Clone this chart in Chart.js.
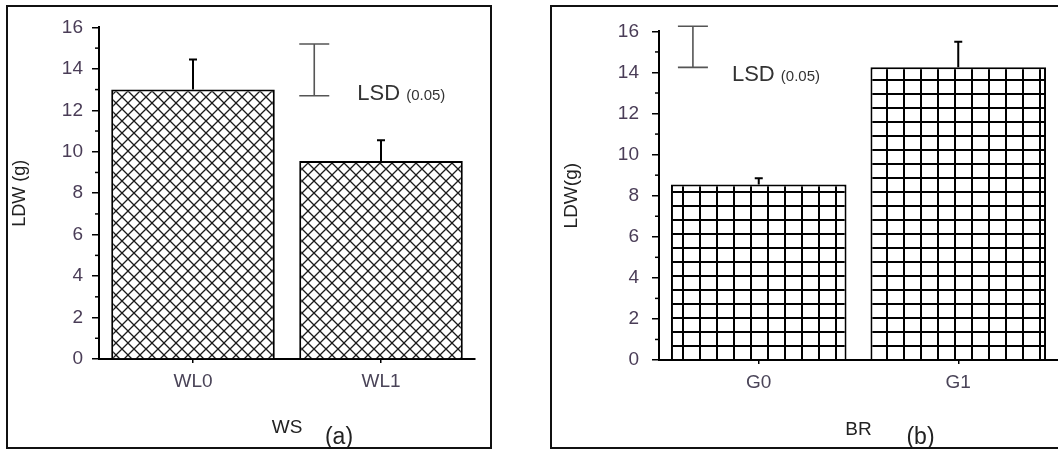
<!DOCTYPE html>
<html>
<head>
<meta charset="utf-8">
<script src="https://cdn.jsdelivr.net/npm/chart.js@4.4.1/dist/chart.umd.min.js"></script>
<style>
  body { margin:0; background:#fff; width:1058px; height:449px; overflow:hidden; position:relative; }
  .panel { position:absolute; border:2px solid #111; background:#fff; }
  #box-a { left:6px; top:5px; width:482px; height:440px; }
  #box-b { left:550px; top:5px; width:506px; height:440px; border-right:none; }
  canvas { display:block; }
</style>
</head>
<body>
<div class="panel" id="box-a"><canvas id="chart-a" width="482" height="440"></canvas></div>
<div class="panel" id="box-b"><canvas id="chart-b" width="506" height="440"></canvas></div>
<script>
// Values
const ticksY = [0, 2, 4, 6, 8, 10, 12, 14, 16];

const wsLabels = ['WL0', 'WL1'];
const wsMeans = [13.0, 9.55];
const wsErrTop = [14.45, 10.55];
const wsLsd = [12.7, 15.2];
const wsLsdAt = 0.645;   // place on the category axis

const brLabels = ['G0', 'G1'];
const brMeans = [8.55, 14.25];
const brErrTop = [8.85, 15.5];
const brLsd = [14.25, 16.25];
const brLsdAt = -0.33;

Chart.defaults.font.family = '"Liberation Sans", Arial, sans-serif';

// Patterns
function crossHatch(ctx) {
  const s = 12;
  const c = document.createElement('canvas');
  c.width = s; c.height = s;
  const g = c.getContext('2d');
  g.fillStyle = '#fff'; g.fillRect(0, 0, s, s);
  g.strokeStyle = '#1a1a1a'; g.lineWidth = 1.3;
  [-s, 0, s].forEach(d => {
    g.beginPath();
    g.moveTo(d, 0); g.lineTo(d + s, s);
    g.moveTo(d, s); g.lineTo(d + s, 0);
    g.stroke();
  });
  return ctx.createPattern(c, 'repeat');
}

function squareGrid(ctx, ox, oy) {
  const w = 17, h = 14;
  const c = document.createElement('canvas');
  c.width = w; c.height = h;
  const g = c.getContext('2d');
  g.fillStyle = '#fff'; g.fillRect(0, 0, w, h);
  g.fillStyle = '#000';
  g.fillRect(0, 0, w, 2);
  g.fillRect(0, 0, 2, h);
  const p = ctx.createPattern(c, 'repeat');
  p.setTransform(new DOMMatrix([1, 0, 0, 1, ox, oy]));
  return p;
}

// Error bars, minor ticks, LSD bar and panel letter
const extras = {
  id: 'extras',
  afterDatasetsDraw(chart, args, o) {
    const { ctx, chartArea: ca, scales: { x, y } } = chart;
    ctx.save();
    ctx.strokeStyle = '#000';
    ctx.lineWidth = 1.5;
    for (let i = 0; i < ticksY.length - 1; i++) {
      const py = y.getPixelForValue((ticksY[i] + ticksY[i + 1]) / 2);
      ctx.beginPath(); ctx.moveTo(ca.left - 4, py); ctx.lineTo(ca.left, py); ctx.stroke();
    }

    ctx.lineWidth = 2;
    chart.getDatasetMeta(0).data.forEach((bar, i) => {
      const top = y.getPixelForValue(o.err[i]);
      ctx.beginPath();
      ctx.moveTo(bar.x, bar.y); ctx.lineTo(bar.x, top);
      ctx.moveTo(bar.x - 4, top); ctx.lineTo(bar.x + 4, top);
      ctx.stroke();
    });

    const lx = x.getPixelForValue(o.lsdAt);
    const lo = y.getPixelForValue(o.lsd[0]);
    const hi = y.getPixelForValue(o.lsd[1]);
    ctx.strokeStyle = '#555';
    ctx.lineWidth = 1.6;
    ctx.beginPath();
    ctx.moveTo(lx, lo); ctx.lineTo(lx, hi);
    ctx.moveTo(lx - 15, lo); ctx.lineTo(lx + 15, lo);
    ctx.moveTo(lx - 15, hi); ctx.lineTo(lx + 15, hi);
    ctx.stroke();

    ctx.fillStyle = '#333';
    ctx.textBaseline = 'alphabetic';
    ctx.font = '22px "Liberation Sans", Arial, sans-serif';
    ctx.fillText('LSD', lx + o.dx, lo + o.dy);
    const w = ctx.measureText('LSD ').width;
    ctx.font = '15px "Liberation Sans", Arial, sans-serif';
    ctx.fillText('(0.05)', lx + o.dx + w, lo + o.dy);

    ctx.fillStyle = '#222';
    ctx.font = '23px "Liberation Sans", Arial, sans-serif';
    ctx.textAlign = 'center';
    ctx.textBaseline = 'middle';
    ctx.fillText(o.panel, (ca.left + ca.right) / 2 + o.panelDx, o.panelY);
    ctx.restore();
  }
};

function makeChart(id, labels, means, fill, o) {
  return new Chart(document.getElementById(id), {
    type: 'bar',
    data: {
      labels: labels,
      datasets: [{
        data: means,
        backgroundColor: fill,
        borderColor: '#000',
        borderWidth: 2,
        barPercentage: o.barPct,
        categoryPercentage: 1
      }]
    },
    options: {
      responsive: false,
      animation: false,
      layout: { padding: { top: o.top, right: o.right, left: 0, bottom: 0 } },
      plugins: {
        legend: { display: false },
        tooltip: { enabled: false },
        extras: o.extras
      },
      scales: {
        x: {
          afterFit: s => { s.height = o.axisBottom; },
          border: { color: '#000', width: 2 },
          grid: { drawOnChartArea: false, offset: false, color: '#000', lineWidth: 1.5, tickLength: 4 },
          ticks: { color: '#4a4458', font: { size: 19 }, padding: 7 },
          title: { display: true, text: o.xTitle, color: '#222', font: { size: o.xTitleSize }, padding: { top: 0, bottom: o.xTitlePad } }
        },
        y: {
          min: 0,
          max: 16,
          afterBuildTicks: s => { s.ticks = ticksY.map(v => ({ value: v })); },
          afterFit: s => { s.width = o.axisLeft; },
          border: { color: '#000', width: 2 },
          grid: { drawOnChartArea: false, color: '#000', lineWidth: 1.5, tickLength: 7 },
          ticks: { color: '#4a3d57', font: { size: 19 }, padding: o.tickPad },
          title: { display: true, text: o.yTitle, color: '#222', font: { size: o.yTitleSize }, padding: { top: o.yTitlePad, bottom: 0 } }
        }
      }
    },
    plugins: [extras]
  });
}

const ctxA = document.getElementById('chart-a').getContext('2d');
makeChart('chart-a', wsLabels, wsMeans, crossHatch(ctxA), {
  barPct: 0.87, top: 20, right: 15, axisLeft: 91, axisBottom: 88, tickPad: 9,
  xTitle: 'WS', xTitleSize: 19, xTitlePad: 8,
  yTitle: 'LDW (g)', yTitleSize: 18, yTitlePad: 1,
  extras: { err: wsErrTop, lsd: wsLsd, lsdAt: wsLsdAt, dx: 43, dy: 4, panel: '(a)', panelDx: 52, panelY: 431 }
});

const ctxB = document.getElementById('chart-b').getContext('2d');
makeChart('chart-b', brLabels, brMeans, squareGrid(ctxB, 11, 2), {
  barPct: 0.88, top: 16, right: 0, axisLeft: 107, axisBottom: 87, tickPad: 13,
  xTitle: 'BR', xTitleSize: 19, xTitlePad: 6,
  yTitle: 'LDW(g)', yTitleSize: 19, yTitlePad: 8,
  extras: { err: brErrTop, lsd: brLsd, lsdAt: brLsdAt, dx: 39, dy: 14, panel: '(b)', panelDx: 62, panelY: 431 }
});
</script>
</body>
</html>
